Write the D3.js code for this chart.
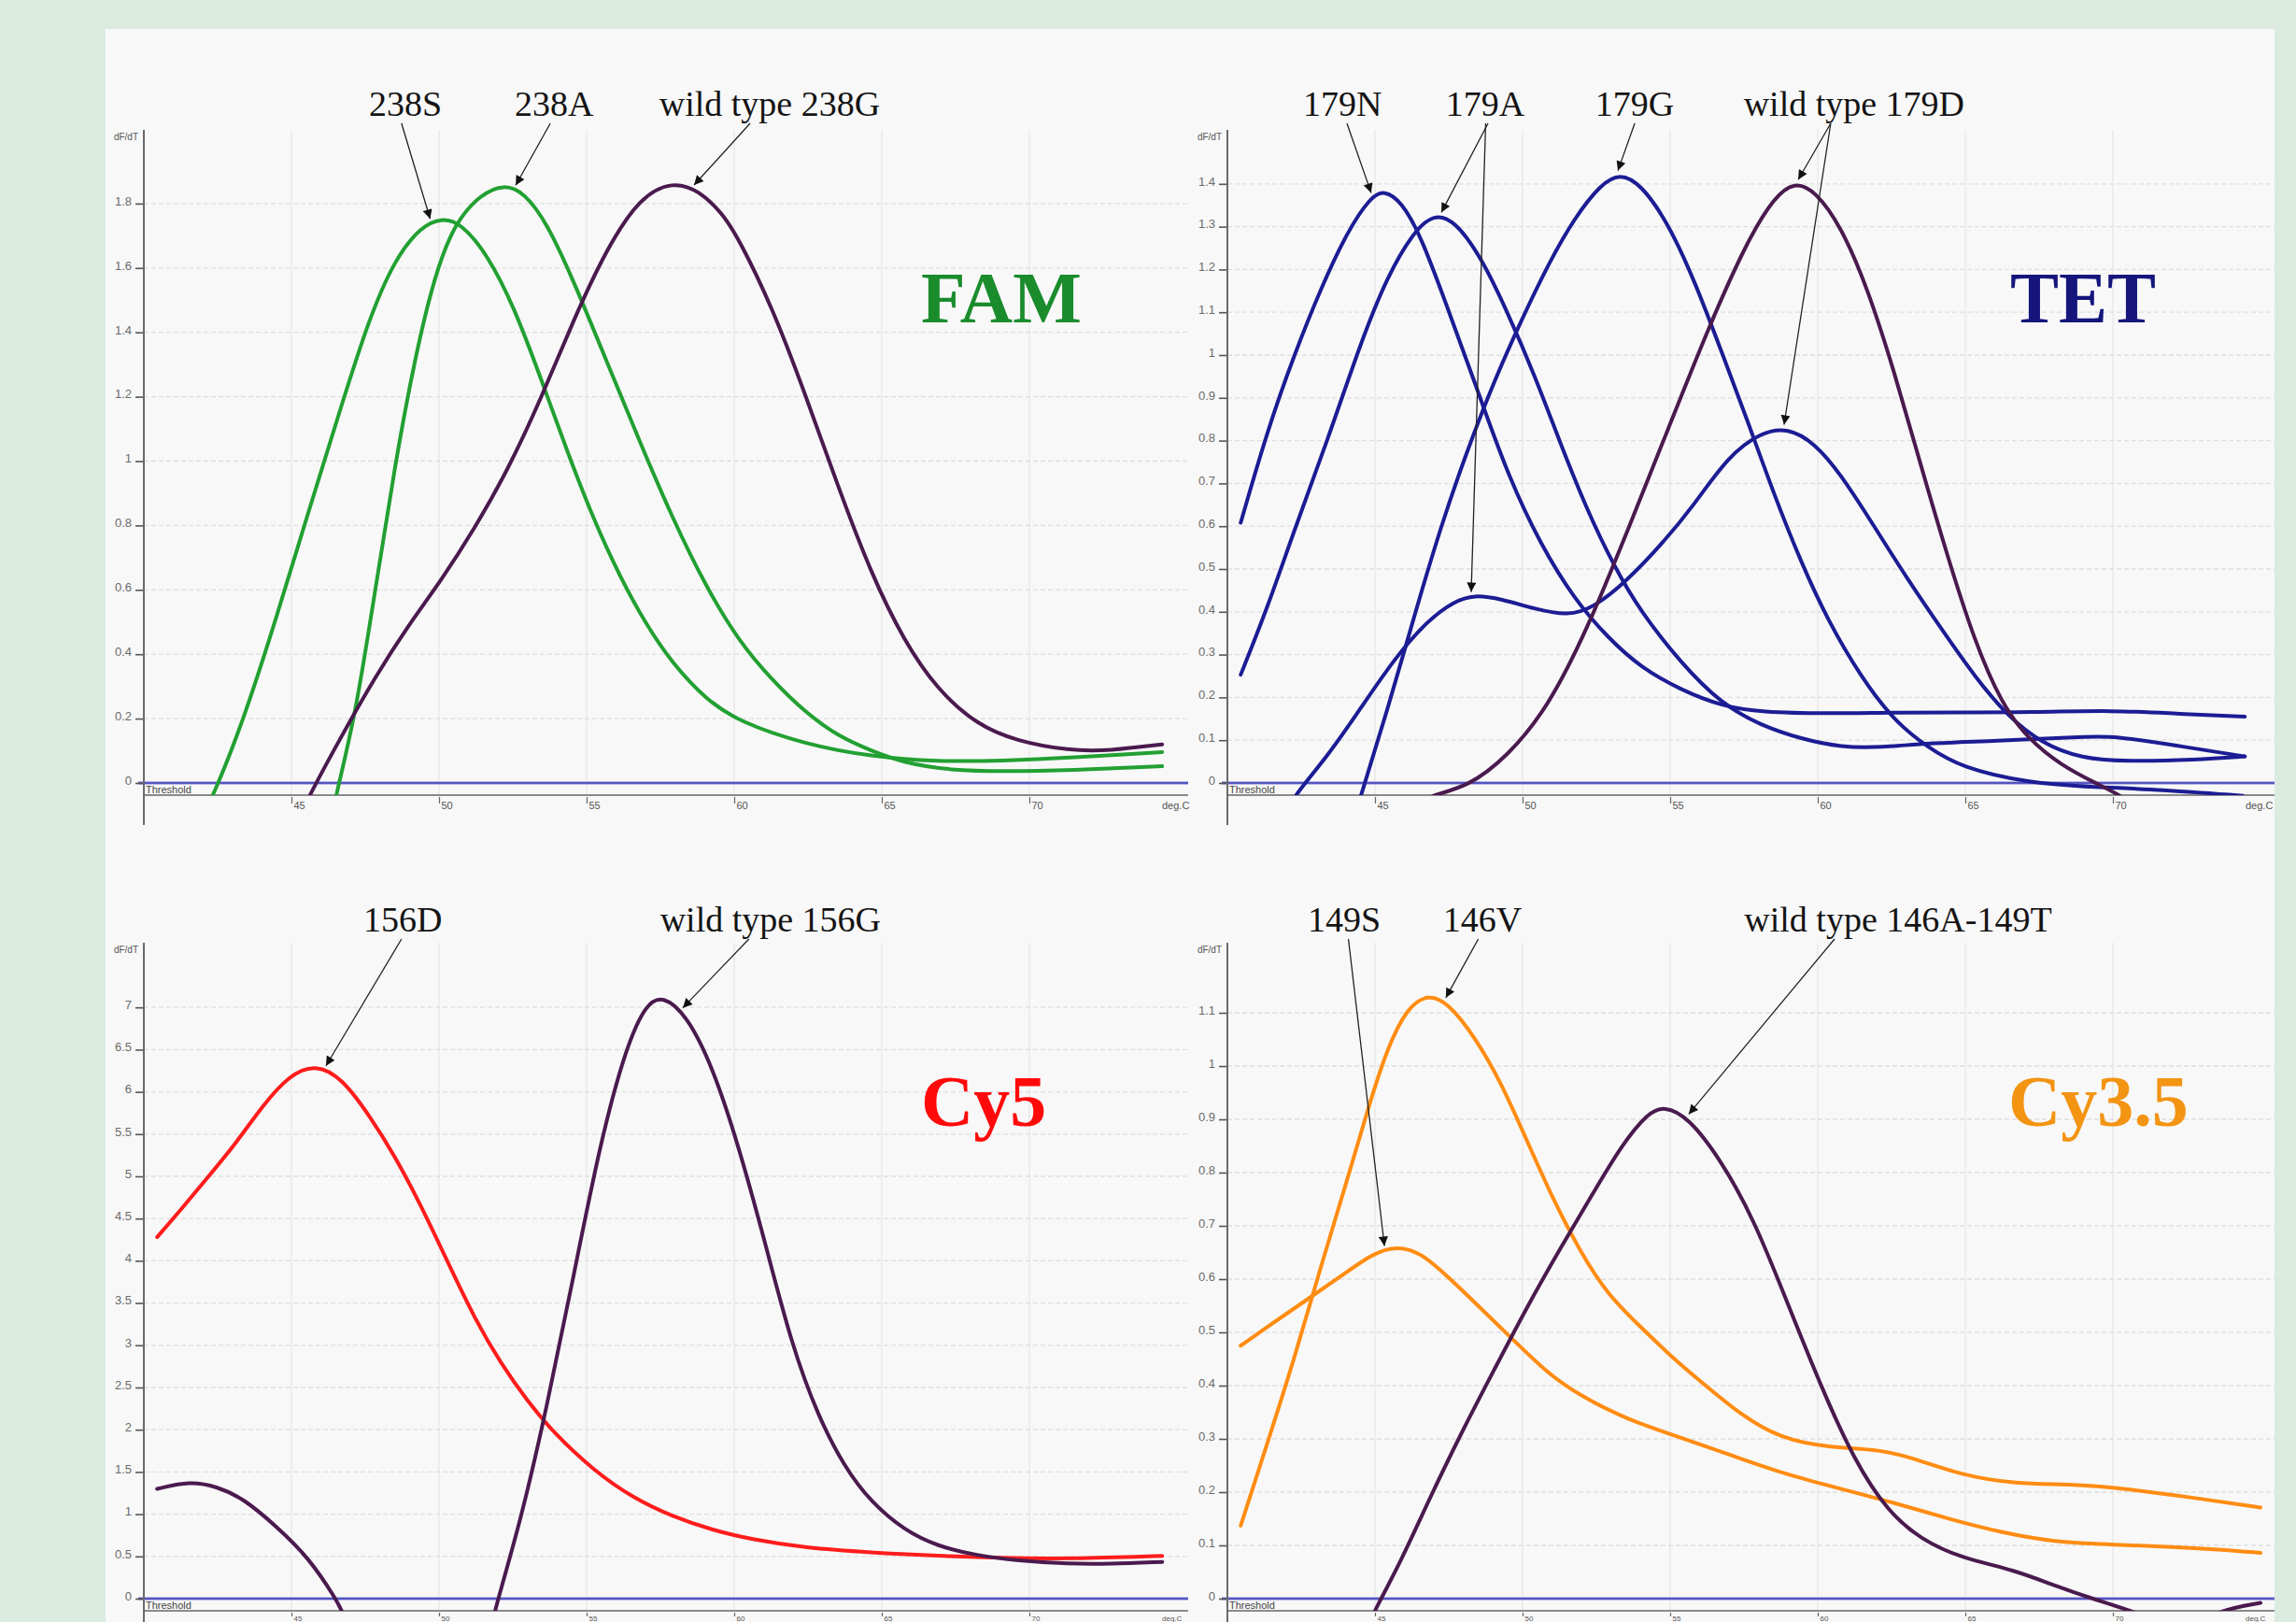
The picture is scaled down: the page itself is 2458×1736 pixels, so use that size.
<!DOCTYPE html>
<html><head><meta charset="utf-8">
<script src="https://cdn.jsdelivr.net/npm/d3@7"></script>
<style>
html,body{margin:0;padding:0;background:#dcebe0;}
svg{display:block;}
</style></head><body>
<svg id="chart" width="2458" height="1736"></svg>
<script>
// ---------- DATA (temperature °C, dF/dT) ----------
const xTicks = [45, 50, 55, 60, 65, 70];
const famTicks = [0, 0.2, 0.4, 0.6, 0.8, 1, 1.2, 1.4, 1.6, 1.8];
const tetTicks = [0, 0.1, 0.2, 0.3, 0.4, 0.5, 0.6, 0.7, 0.8, 0.9, 1, 1.1, 1.2, 1.3, 1.4];
const cy5Ticks = [0, 0.5, 1, 1.5, 2, 2.5, 3, 3.5, 4, 4.5, 5, 5.5, 6, 6.5, 7];
const cy35Ticks = [0, 0.1, 0.2, 0.3, 0.4, 0.5, 0.6, 0.7, 0.8, 0.9, 1, 1.1];

// FAM
const fam238S = [[42.0,-0.1],[42.35,-0.04],[43.36,0.19],[44.48,0.51],[45.6,0.85],[46.72,1.18],[47.62,1.44],[48.51,1.63],[49.41,1.73],[50.08,1.755],[50.75,1.74],[51.65,1.64],[52.54,1.48],[53.44,1.26],[54.34,1.03],[55.23,0.82],[56.13,0.64],[57.03,0.49],[57.92,0.37],[59.04,0.26],[60.16,0.19],[62.4,0.12],[64.64,0.082],[66.9,0.066],[69.1,0.069],[71.4,0.078],[74.5,0.096]];
const fam238A = [[46.4,-0.1],[46.5,-0.04],[47.17,0.21],[47.84,0.60],[48.51,0.99],[49.18,1.32],[49.86,1.58],[50.53,1.74],[51.42,1.83],[52.21,1.86],[52.88,1.835],[53.66,1.74],[54.56,1.56],[55.68,1.31],[56.8,1.06],[57.92,0.82],[59.04,0.61],[60.16,0.44],[61.28,0.32],[62.4,0.22],[63.52,0.145],[64.64,0.1],[65.76,0.062],[67.33,0.039],[69.1,0.036],[71.4,0.039],[74.5,0.052]];
const fam238G = [[45.3,-0.1],[45.6,-0.04],[46.72,0.15],[47.84,0.33],[48.96,0.49],[50.08,0.63],[51.2,0.79],[52.32,0.97],[53.44,1.19],[54.56,1.44],[55.68,1.66],[56.8,1.82],[57.92,1.87],[58.82,1.84],[59.6,1.77],[60.16,1.69],[61.28,1.48],[62.4,1.21],[63.52,0.92],[64.64,0.65],[65.76,0.44],[66.88,0.29],[68.23,0.18],[69.57,0.13],[71.36,0.10],[72.7,0.10],[74.5,0.12]];

// TET
const tet179N = [[40.45,0.608],[41.36,0.825],[42.26,1.0],[43.16,1.155],[44.07,1.29],[44.86,1.37],[45.31,1.385],[45.88,1.36],[46.55,1.28],[47.46,1.11],[48.36,0.94],[49.49,0.72],[50.62,0.556],[51.75,0.43],[52.88,0.34],[54.0,0.27],[55.37,0.217],[56.73,0.18],[58.08,0.165],[60.34,0.162],[62.6,0.165],[64.86,0.165],[67.1,0.165],[70.06,0.17],[72.1,0.162],[74.47,0.155]];
const tet179A = [[40.45,0.253],[41.36,0.41],[42.26,0.59],[43.39,0.80],[44.52,1.03],[45.42,1.185],[46.33,1.29],[47.0,1.33],[47.69,1.315],[48.59,1.23],[49.49,1.1],[50.4,0.955],[51.3,0.79],[52.2,0.635],[53.11,0.505],[54.0,0.40],[55.37,0.28],[56.73,0.185],[58.08,0.134],[59.44,0.103],[60.8,0.083],[62.15,0.083],[63.7,0.093],[66.0,0.098],[68.93,0.108],[70.06,0.11],[72.1,0.088],[74.47,0.062]];
const tet179G = [[44.3,-0.08],[44.52,-0.03],[45.42,0.17],[46.33,0.39],[47.23,0.6],[48.14,0.78],[49.04,0.94],[49.95,1.08],[50.85,1.21],[51.75,1.32],[52.66,1.4],[53.3,1.425],[54.0,1.4],[54.92,1.31],[55.82,1.175],[56.73,1.01],[57.63,0.845],[58.54,0.67],[59.44,0.515],[60.34,0.38],[61.47,0.247],[62.6,0.144],[63.73,0.083],[64.86,0.036],[67.1,0.0],[69.4,-0.01],[71.6,-0.015],[74.4,-0.03]];
const tet179D = [[46.3,-0.06],[46.78,-0.03],[48.14,-0.01],[49.49,0.062],[50.85,0.175],[52.2,0.36],[53.56,0.59],[54.92,0.825],[56.27,1.06],[57.63,1.27],[58.54,1.37],[59.21,1.405],[59.9,1.385],[60.8,1.30],[61.7,1.154],[62.6,0.96],[63.5,0.74],[64.41,0.526],[65.32,0.33],[66.22,0.186],[67.12,0.103],[68.25,0.041],[69.4,0.0],[70.3,-0.03],[70.8,-0.06]];
const tet179AD = [[42.0,-0.07],[42.26,-0.03],[43.39,0.062],[44.52,0.175],[45.65,0.29],[46.78,0.38],[47.69,0.425],[48.36,0.44],[49.27,0.43],[50.4,0.407],[51.53,0.39],[52.43,0.41],[53.56,0.474],[54.69,0.556],[55.82,0.65],[56.95,0.763],[58.08,0.82],[58.99,0.83],[59.89,0.795],[60.8,0.72],[61.93,0.598],[63.06,0.474],[64.19,0.36],[65.32,0.248],[66.45,0.155],[67.58,0.093],[68.93,0.057],[70.5,0.05],[72.8,0.054],[74.47,0.062]];

// Cy5
const cy5_156D = [[40.45,4.28],[41.34,4.64],[42.24,5.02],[43.14,5.40],[44.03,5.84],[44.93,6.2],[45.82,6.33],[46.72,6.16],[47.62,5.73],[48.51,5.24],[49.41,4.64],[50.3,3.98],[51.2,3.32],[52.1,2.78],[52.99,2.34],[53.89,1.96],[55.23,1.52],[56.58,1.19],[57.92,0.97],[59.27,0.81],[60.6,0.70],[62.4,0.60],[64.64,0.545],[66.9,0.506],[69.1,0.48],[71.36,0.47],[74.5,0.506]];
const cy5_156G_low = [[40.45,1.30],[41.57,1.39],[42.46,1.33],[43.36,1.19],[44.48,0.86],[45.6,0.48],[46.5,0.0],[46.72,-0.15],[47.0,-0.4]];
const cy5_156G = [[51.6,-0.6],[51.87,-0.15],[52.77,0.92],[53.66,2.28],[54.56,3.82],[55.46,5.40],[56.35,6.55],[57.03,7.05],[57.58,7.14],[58.37,6.92],[59.27,6.3],[60.16,5.35],[61.06,4.2],[61.95,3.0],[62.85,2.15],[63.75,1.55],[64.64,1.14],[65.76,0.81],[66.88,0.62],[68.23,0.51],[69.57,0.45],[71.36,0.41],[72.7,0.41],[74.5,0.435]];

// Cy3.5
const cy35_146V = [[40.45,0.137],[41.36,0.293],[42.26,0.449],[43.16,0.623],[44.07,0.788],[44.75,0.918],[45.42,1.035],[46.1,1.11],[46.78,1.135],[47.46,1.12],[48.36,1.057],[49.27,0.97],[50.17,0.857],[51.08,0.744],[51.98,0.649],[52.88,0.571],[54.0,0.51],[55.14,0.449],[56.27,0.397],[57.4,0.345],[58.76,0.30],[60.34,0.284],[62.15,0.28],[63.28,0.263],[64.86,0.232],[66.67,0.215],[68.7,0.215],[70.5,0.206],[72.8,0.189],[75.0,0.171]];
const cy35_149S = [[40.45,0.475],[41.58,0.519],[42.71,0.562],[43.84,0.605],[44.97,0.65],[45.76,0.662],[46.55,0.65],[47.46,0.605],[48.59,0.545],[49.72,0.484],[50.85,0.423],[51.98,0.38],[53.56,0.336],[55.37,0.302],[57.18,0.267],[58.99,0.232],[60.8,0.206],[62.6,0.18],[64.41,0.15],[66.22,0.124],[68.03,0.106],[69.84,0.102],[71.65,0.098],[73.45,0.093],[75.0,0.086]];
const cy35_wt = [[44.7,-0.06],[44.97,-0.024],[45.88,0.07],[46.78,0.18],[47.91,0.31],[49.04,0.43],[50.17,0.55],[51.3,0.66],[52.43,0.765],[53.34,0.85],[54.24,0.912],[54.8,0.925],[55.6,0.905],[56.73,0.823],[57.86,0.71],[58.99,0.553],[60.12,0.397],[61.25,0.258],[62.38,0.163],[63.5,0.111],[64.86,0.076],[66.67,0.054],[68.03,0.024],[69.4,-0.002],[70.74,-0.024],[72.2,-0.06],[73.7,-0.02],[75.0,-0.008]];

// Annotation labels
const famLabels = ["238S", "238A", "wild type 238G"];
const tetLabels = ["179N", "179A", "179G", "wild type 179D"];
const cy5Labels = ["156D", "wild type 156G"];
const cy35Labels = ["149S", "146V", "wild type 146A-149T"];
const dyeNames = ["FAM", "TET", "Cy5", "Cy3.5"];

// ---------- STYLE ----------
const GREEN = "#22a032", PURPLE = "#4a1a4e", NAVY = "#1c1c94", RED = "#ff1c1c", ORANGE = "#ff8c12";

const panels = [
  {dye: dyeNames[0], dyeColor: "#1a8c2c", ticks: famTicks, ax: 154, x1: 1272, zeroY: 838, ppu: 344.5, top: 139, bottom: 883, xAxisY: 851,
   titleX: 986, titleY: 345, labelY: 124, xTickSize: 7, xFont: 11, xLabelY: 866,
   series: [{d: fam238S, c: GREEN}, {d: fam238A, c: GREEN}, {d: fam238G, c: PURPLE}],
   labels: [
     {t: famLabels[0], at: 48.86, arrows: [{from: 48.73, s: fam238S, to: 49.7}]},
     {t: famLabels[1], at: 53.9, arrows: [{from: 53.77, s: fam238A, to: 52.6}]},
     {t: famLabels[2], at: 61.2, arrows: [{from: 60.54, s: fam238G, to: 58.64}]}
   ]},
  {dye: dyeNames[1], dyeColor: "#15157c", ticks: tetTicks, ax: 1314, x1: 2435, zeroY: 838, ppu: 458, top: 139, bottom: 883, xAxisY: 851,
   titleX: 2152, titleY: 345, labelY: 124, xTickSize: 7, xFont: 11, xLabelY: 866,
   series: [{d: tet179N, c: NAVY}, {d: tet179A, c: NAVY}, {d: tet179G, c: NAVY}, {d: tet179AD, c: NAVY}, {d: tet179D, c: PURPLE}],
   labels: [
     {t: tetLabels[0], at: 43.9, arrows: [{from: 44.05, s: tet179N, to: 44.87}]},
     {t: tetLabels[1], at: 48.73, arrows: [{from: 48.83, s: tet179A, to: 47.25}, {from: 48.75, s: tet179AD, to: 48.26}]},
     {t: tetLabels[2], at: 53.8, arrows: [{from: 53.8, s: tet179G, to: 53.23}]},
     {t: tetLabels[3], at: 61.23, arrows: [{from: 60.44, s: tet179D, to: 59.34}, {from: 60.44, s: tet179AD, to: 58.86}]}
   ]},
  {dye: dyeNames[2], dyeColor: "#ff0a0a", ticks: cy5Ticks, ax: 154, x1: 1272, zeroY: 1711, ppu: 90.4, top: 1009, bottom: 1736, xAxisY: 1724,
   titleX: 986, titleY: 1205, labelY: 997, xTickSize: 4, xFont: 8, xLabelY: 1735,
   series: [{d: cy5_156D, c: RED}, {d: cy5_156G_low, c: PURPLE}, {d: cy5_156G, c: PURPLE}],
   labels: [
     {t: cy5Labels[0], at: 48.77, arrows: [{from: 48.73, s: cy5_156D, to: 46.17}]},
     {t: cy5Labels[1], at: 61.23, arrows: [{from: 60.5, s: cy5_156G, to: 58.26}]}
   ]},
  {dye: dyeNames[3], dyeColor: "#f39412", ticks: cy35Ticks, ax: 1314, x1: 2435, zeroY: 1711, ppu: 570, top: 1009, bottom: 1736, xAxisY: 1724,
   titleX: 2150, titleY: 1205, labelY: 997, xTickSize: 4, xFont: 8, xLabelY: 1735,
   series: [{d: cy35_146V, c: ORANGE}, {d: cy35_149S, c: ORANGE}, {d: cy35_wt, c: PURPLE}],
   labels: [
     {t: cy35Labels[0], at: 43.96, arrows: [{from: 44.1, s: cy35_149S, to: 45.32}]},
     {t: cy35Labels[1], at: 48.64, arrows: [{from: 48.5, s: cy35_146V, to: 47.4}]},
     {t: cy35Labels[2], at: 62.72, arrows: [{from: 60.57, s: cy35_wt, to: 55.63}]}
   ]}
];

const PX_PER_DEG = 31.6;

const svg = d3.select("#chart");
svg.append("rect").attr("width", 2458).attr("height", 1736).attr("fill", "#dcebe0");
svg.append("rect").attr("x", 113).attr("y", 31).attr("width", 2322).attr("height", 1705).attr("fill", "#f8f8f8");

const defs = svg.append("defs");
defs.append("marker").attr("id", "arr").attr("viewBox", "0 0 10 10")
  .attr("refX", 10).attr("refY", 5).attr("markerWidth", 13).attr("markerHeight", 10)
  .attr("markerUnits", "userSpaceOnUse").attr("orient", "auto")
  .append("path").attr("d", "M0,0L10,5L0,10z").attr("fill", "#111");

function valueAt(s, t) {
  for (let i = 0; i < s.length - 1; i++) {
    if (t >= s[i][0] && t <= s[i + 1][0]) {
      const f = (t - s[i][0]) / (s[i + 1][0] - s[i][0]);
      return s[i][1] + f * (s[i + 1][1] - s[i][1]);
    }
  }
  return s[s.length - 1][1];
}

panels.forEach((p, i) => {
  const xs = d3.scaleLinear().domain([40, 75]).range([p.ax, p.ax + 35 * PX_PER_DEG]);
  const maxT = p.ticks[p.ticks.length - 1];
  const ys = d3.scaleLinear().domain([0, maxT]).range([p.zeroY, p.zeroY - maxT * p.ppu]);
  const g = svg.append("g");

  const cid = "clip" + i;
  defs.append("clipPath").attr("id", cid).append("rect")
    .attr("x", p.ax).attr("y", p.top).attr("width", p.x1 - p.ax).attr("height", p.xAxisY - p.top);

  // vertical grid
  g.append("g").selectAll("line").data(xTicks).join("line")
    .attr("x1", d => xs(d)).attr("x2", d => xs(d)).attr("y1", p.top).attr("y2", p.xAxisY)
    .attr("stroke", "#e6e6e6").attr("stroke-width", 1.2);
  // horizontal grid
  g.append("g").selectAll("line").data(p.ticks.filter(t => t > 0)).join("line")
    .attr("x1", p.ax).attr("x2", p.x1).attr("y1", d => ys(d)).attr("y2", d => ys(d))
    .attr("stroke", "#dedede").attr("stroke-width", 1.3).attr("stroke-dasharray", "5,3");

  // threshold line
  g.append("line").attr("x1", p.ax - 6).attr("x2", p.x1).attr("y1", ys(0)).attr("y2", ys(0))
    .attr("stroke", "#b8b8e6").attr("stroke-width", 4);
  g.append("line").attr("x1", p.ax - 6).attr("x2", p.x1).attr("y1", ys(0)).attr("y2", ys(0))
    .attr("stroke", "#3434b4").attr("stroke-width", 1.6);

  // x axis line
  g.append("line").attr("x1", p.ax).attr("x2", p.x1).attr("y1", p.xAxisY).attr("y2", p.xAxisY)
    .attr("stroke", "#8a8a8a").attr("stroke-width", 2.2);

  // y axis
  const yAx = g.append("g").attr("transform", `translate(${p.ax},0)`)
    .call(d3.axisLeft(ys).tickValues(p.ticks).tickSize(9).tickPadding(4).tickFormat(d3.format("~g")));
  yAx.select(".domain").remove();
  yAx.selectAll(".tick line").attr("stroke", "#555").attr("stroke-width", 1.6);
  yAx.selectAll(".tick text").attr("font-family", "Liberation Sans, Arial, sans-serif")
    .attr("font-size", 13).attr("fill", "#6a6a6a").attr("dy", "0.1em");
  g.append("line").attr("x1", p.ax).attr("x2", p.ax).attr("y1", p.top).attr("y2", p.bottom)
    .attr("stroke", "#6a6a6a").attr("stroke-width", 2);

  // x axis ticks
  const xAx = g.append("g").attr("transform", `translate(0,${p.xAxisY + 2})`)
    .call(d3.axisBottom(xs).tickValues(xTicks).tickSize(p.xTickSize).tickPadding(2));
  xAx.select(".domain").remove();
  xAx.selectAll(".tick line").attr("stroke", "#666").attr("stroke-width", 1.2);
  xAx.selectAll(".tick text").attr("font-family", "Liberation Sans, Arial, sans-serif")
    .attr("font-size", p.xFont).attr("fill", "#555").attr("text-anchor", "start").attr("x", 2)
    .attr("y", p.xLabelY - p.xAxisY - 2).attr("dy", null);

  g.append("text").attr("x", p.ax + 2).attr("y", p.xAxisY - 2).text("Threshold")
    .attr("font-family", "Liberation Sans, Arial, sans-serif").attr("font-size", 11).attr("fill", "#444");
  g.append("text").attr("x", xs(75) - 16).attr("y", p.xLabelY).text("deg.C")
    .attr("font-family", "Liberation Sans, Arial, sans-serif").attr("font-size", p.xFont).attr("fill", "#555");
  g.append("text").attr("x", p.ax - 6).attr("y", p.top + 11).text("dF/dT").attr("text-anchor", "end")
    .attr("font-family", "Liberation Sans, Arial, sans-serif").attr("font-size", 10).attr("fill", "#555");

  // curves
  const line = d3.line().x(d => xs(d[0])).y(d => ys(d[1])).curve(d3.curveBasis);
  g.append("g").attr("clip-path", `url(#${cid})`).selectAll("path").data(p.series).join("path")
    .attr("d", s => line(s.d)).attr("fill", "none").attr("stroke", s => s.c)
    .attr("stroke-width", 4).attr("stroke-linejoin", "round").attr("stroke-linecap", "round");

  // dye title
  g.append("text").attr("x", p.titleX).attr("y", p.titleY).text(p.dye)
    .attr("font-family", "Liberation Serif, Times New Roman, serif").attr("font-weight", "bold")
    .attr("font-size", 78).attr("fill", p.dyeColor);

  // annotations
  p.labels.forEach(l => {
    g.append("text").attr("x", xs(l.at)).attr("y", p.labelY).text(l.t).attr("text-anchor", "middle")
      .attr("font-family", "Liberation Serif, Times New Roman, serif").attr("font-size", 38)
      .attr("fill", "#141414");
    l.arrows.forEach(a => {
      g.append("line").attr("x1", xs(a.from)).attr("y1", p.labelY + 8)
        .attr("x2", xs(a.to)).attr("y2", ys(valueAt(a.s, a.to)) - 4)
        .attr("stroke", "#222").attr("stroke-width", 1.3).attr("marker-end", "url(#arr)");
    });
  });
});
</script>
</body></html>
